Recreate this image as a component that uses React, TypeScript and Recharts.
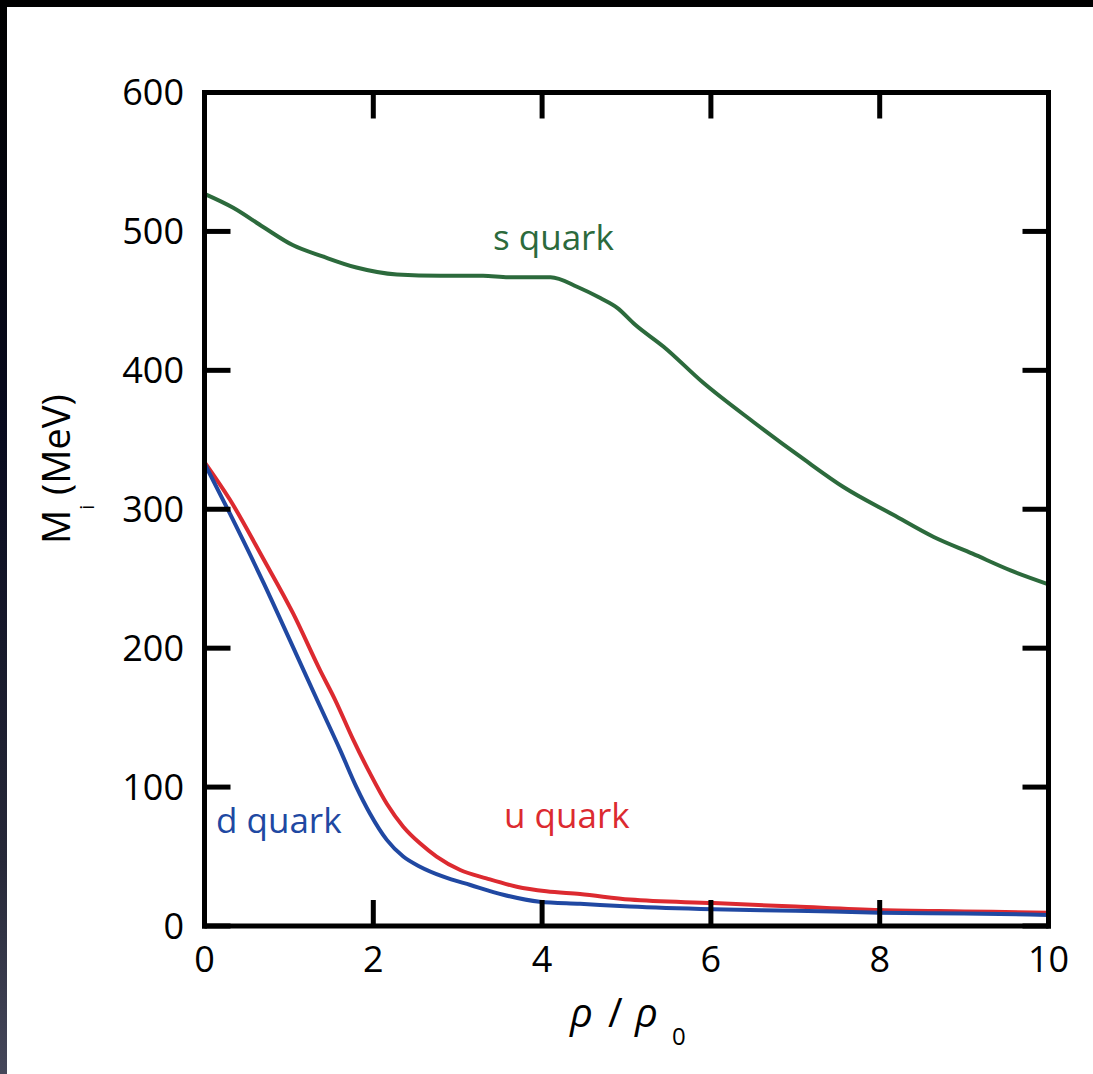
import { LineChart, Line, XAxis, YAxis } from "recharts";

const rhoTicks = [0, 2, 4, 6, 8, 10];
const massTicks = [0, 100, 200, 300, 400, 500, 600];

const sRho = [0, 0.34, 0.7, 1.05, 1.4, 1.8, 2.28, 2.8, 3.3, 3.6, 4.1, 4.42, 4.69, 4.89, 5.1, 5.44, 5.91, 6.5, 7.1, 7.57, 8.16, 8.64, 9.1, 9.55, 10];
const sMass = [527, 517, 503, 490, 482, 474, 469, 468, 468, 467, 467, 460, 452, 445, 433, 417, 391, 363, 336, 316, 296, 280, 268, 256, 246];

const uRho = [0, 0.3, 0.7, 1.05, 1.37, 1.546, 1.763, 1.96, 2.16, 2.355, 2.553, 2.75, 3.03, 3.34, 3.7, 4.05, 4.45, 5.04, 6.03, 7, 8, 9, 10];
const uMass = [334, 307, 264, 225, 184, 163, 134, 110, 88, 71.5, 59.5, 50, 40.3, 34.3, 28.3, 25, 23, 19, 16.5, 14, 11.5, 10.5, 9.6];

const dRho = [0, 0.3, 0.7, 1.01, 1.37, 1.605, 1.8, 1.96, 2.16, 2.355, 2.553, 2.83, 3.15, 3.54, 3.97, 4.45, 5.04, 6.03, 7, 8, 9, 10];
const dMass = [333, 297, 247, 206, 158, 127, 100, 81, 62, 50, 42.7, 35.5, 29.5, 22.5, 17.5, 16, 14, 12, 11, 9.6, 9, 8];

const GREEN = "#2c6a3c";
const RED = "#dc2a30";
const BLUE = "#2048a2";
const FONT = "'Open Sans', 'Noto Sans', sans-serif";

const toPoints = (xs: number[], ys: number[]) => xs.map((rho, i) => ({ rho, mass: ys[i] }));

const axisStroke = { stroke: "#000", strokeWidth: 5, strokeLinecap: "square" as const };
const tickStroke = { stroke: "#000", strokeWidth: 5 };
const tickFont = { fontSize: 36, fill: "#000", fontFamily: FONT };
// top and right axes only carry tick marks, no labels
const NoLabel = () => <g />;

export default function App() {
  return (
    <div
      style={{
        position: "absolute",
        left: 0,
        top: 0,
        width: 1093,
        height: 1074,
        background: "linear-gradient(to bottom, #000 0%, #080a1e 40%, #262838 80%, #45475a 100%)",
        overflow: "hidden",
      }}
    >
      <div style={{ position: "absolute", left: 7, top: 7, right: 0, bottom: 0, background: "#fff" }} />
      <div style={{ position: "absolute", left: 0, top: 0 }}>
        <LineChart
          width={1093}
          height={1074}
          margin={{ top: 62.5, right: 24.5, bottom: 88, left: 144.5 }}
        >
          <XAxis
            xAxisId="bottom"
            type="number"
            dataKey="rho"
            domain={[0, 10]}
            ticks={rhoTicks}
            height={60}
            axisLine={axisStroke}
            tickLine={tickStroke}
            tickSize={-26}
            tickMargin={46.4}
            tick={tickFont}
          />
          <XAxis
            xAxisId="top"
            orientation="top"
            type="number"
            dataKey="rho"
            domain={[0, 10]}
            ticks={rhoTicks}
            height={30}
            axisLine={axisStroke}
            tickLine={tickStroke}
            tickSize={-26}
            tick={NoLabel}
          />
          <YAxis
            yAxisId="left"
            type="number"
            domain={[0, 600]}
            ticks={massTicks}
            width={60}
            axisLine={axisStroke}
            tickLine={tickStroke}
            tickSize={-26}
            tickMargin={46.5}
            tick={tickFont}
          />
          <YAxis
            yAxisId="right"
            orientation="right"
            type="number"
            domain={[0, 600]}
            ticks={massTicks}
            width={20}
            axisLine={axisStroke}
            tickLine={tickStroke}
            tickSize={-26}
            tick={NoLabel}
          />
          <Line
            xAxisId="top"
            yAxisId="right"
            data={toPoints(sRho, sMass)}
            dataKey="mass"
            type="monotone"
            stroke={GREEN}
            strokeWidth={4}
            dot={false}
            isAnimationActive={false}
          />
          <Line
            xAxisId="bottom"
            yAxisId="left"
            data={toPoints(uRho, uMass)}
            dataKey="mass"
            type="monotone"
            stroke={RED}
            strokeWidth={4}
            dot={false}
            isAnimationActive={false}
          />
          <Line
            xAxisId="bottom"
            yAxisId="left"
            data={toPoints(dRho, dMass)}
            dataKey="mass"
            type="monotone"
            stroke={BLUE}
            strokeWidth={4}
            dot={false}
            isAnimationActive={false}
          />
        </LineChart>
      </div>
      <svg
        width={1093}
        height={1074}
        style={{ position: "absolute", left: 0, top: 0, pointerEvents: "none" }}
        fontFamily={FONT}
      >
        <text x={493} y={250} fontSize={35} fill={GREEN}>s quark</text>
        <text x={216} y={833} fontSize={35} fill={BLUE}>d quark</text>
        <text x={504} y={828} fontSize={35} fill={RED}>u quark</text>
        <text transform="translate(70,544) rotate(-90)" fontSize={38} fill="#000">
          M<tspan fontSize={20} dy={24}>i</tspan>
          <tspan dy={-24}> (MeV)</tspan>
        </text>
        <text y={1027} fontSize={40} fill="#000">
          <tspan x={570} fontStyle="italic">ρ</tspan>
          <tspan x={608}>/</tspan>
          <tspan x={635} fontStyle="italic">ρ</tspan>
          <tspan x={672} fontSize={24} dy={18}>0</tspan>
        </text>
      </svg>
    </div>
  );
}
